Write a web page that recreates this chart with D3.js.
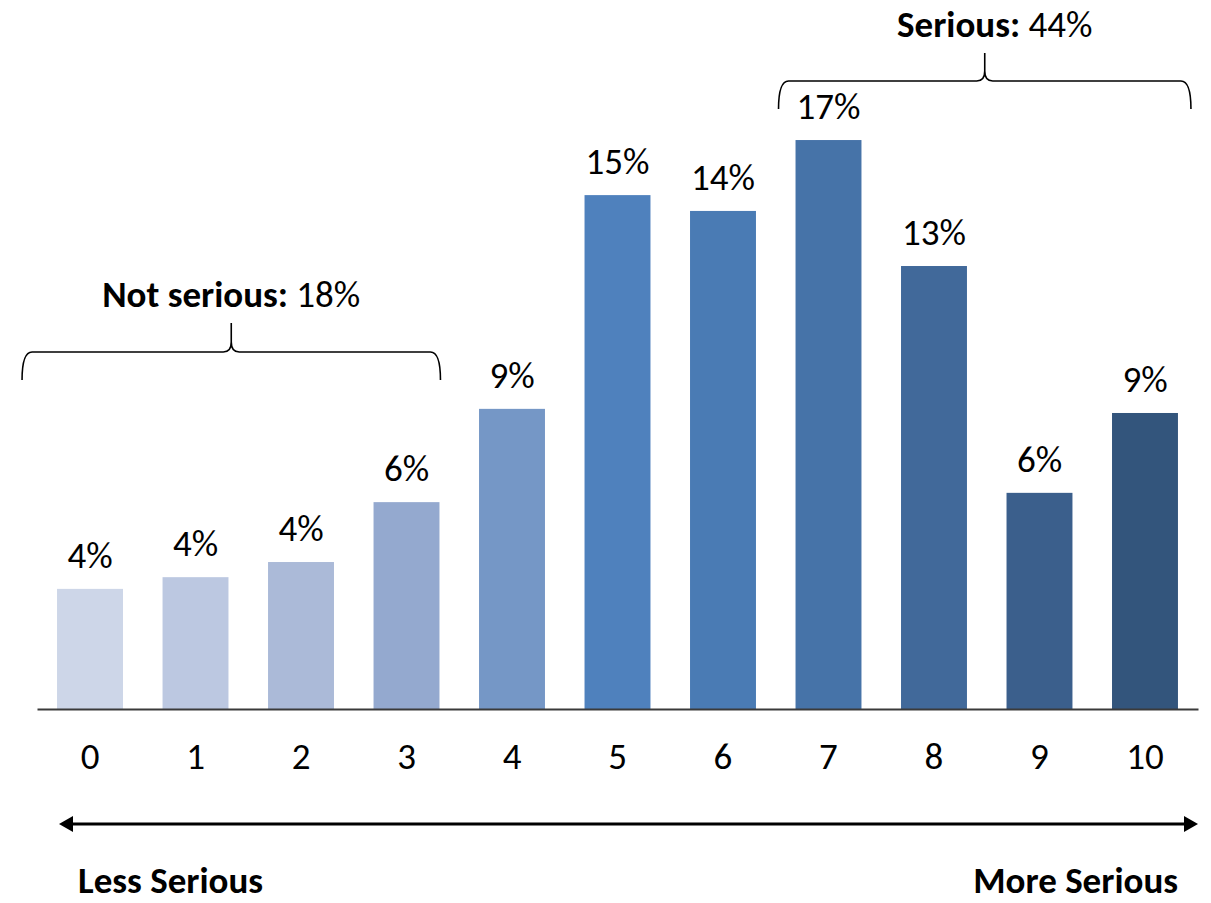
<!DOCTYPE html>
<html>
<head>
<meta charset="utf-8">
<script src="https://cdn.jsdelivr.net/npm/d3@7"></script>
<style>
  html, body { margin: 0; padding: 0; background: #fff; }
  svg { display: block; }
  text { font-family: Carlito, Calibri, "Open Sans", Lato, sans-serif; }
</style>
</head>
<body>
<svg id="chart" width="1211" height="903"></svg>
<script>
// ---- data ----
const categories = ["0", "1", "2", "3", "4", "5", "6", "7", "8", "9", "10"];
const values = [3.49, 3.83, 4.27, 6.01, 8.72, 14.93, 14.47, 16.53, 12.87, 6.28, 8.60];
const valueLabels = ["4%", "4%", "4%", "6%", "9%", "15%", "14%", "17%", "13%", "6%", "9%"];
const barColors = ["#cdd6e8", "#bcc8e1", "#abbad8", "#94a9cf", "#7597c6", "#4f81bd", "#4a7bb4", "#4673a8", "#41699a", "#3b5f8c", "#33557c"];
const groupNames = ["Not serious:", "Serious:"];
const groupValues = ["18%", "44%"];
const groupRanges = [["0", "3"], ["7", "10"]];
const endLabels = ["Less Serious", "More Serious"];

// ---- layout ----
const FONT = "Carlito, Calibri, 'Open Sans', Lato, sans-serif";
const FS = 37;
const svg = d3.select("#chart");
const baseY = 709;
const x = d3.scaleBand().domain(categories).range([37, 1198]).paddingInner(0.375).paddingOuter(0.19);
const y = d3.scaleLinear().domain([0, 20]).range([baseY, baseY - 20 * 34.42]);

// bars
svg.append("g").selectAll("rect").data(values).join("rect")
  .attr("x", (d, i) => x(categories[i]))
  .attr("y", d => y(d))
  .attr("width", x.bandwidth())
  .attr("height", d => y(0) - y(d))
  .attr("fill", (d, i) => barColors[i]);

// value labels
svg.append("g").selectAll("text").data(values).join("text")
  .attr("x", (d, i) => x(categories[i]) + x.bandwidth() / 2)
  .attr("y", d => y(d) - 21)
  .attr("text-anchor", "middle")
  .attr("font-size", FS)
  .attr("fill", "#000")
  .text((d, i) => valueLabels[i]);

// x axis
const axis = svg.append("g").attr("transform", `translate(0,${baseY})`)
  .call(d3.axisBottom(x).tickSize(0).tickPadding(34).tickSizeOuter(0));
axis.select(".domain").attr("stroke", "#3a3a3a").attr("stroke-width", 2);
axis.selectAll(".tick text")
  .attr("font-size", FS)
  .attr("fill", "#000")
  .attr("font-family", FONT);

// braces
function bracePath(x1, x2, xm, yH, yE, yT) {
  const r = 10;
  return `M${x1},${yE} Q${x1},${yH} ${x1 + r},${yH} L${xm - 8},${yH} Q${xm},${yH} ${xm},${yH - 10} L${xm},${yT}` +
         ` M${xm},${yH - 10} Q${xm},${yH} ${xm + 8},${yH} L${x2 - r},${yH} Q${x2},${yH} ${x2},${yE}`;
}
const braceSpecs = [
  { x1: x(groupRanges[0][0]) - 35, x2: x(groupRanges[0][1]) + x.bandwidth() + 1, yH: 352, yE: 380, yT: 323, ty: 307, tdx: 0 },
  { x1: x(groupRanges[1][0]) - 17, x2: x(groupRanges[1][1]) + x.bandwidth() + 13, yH: 81, yE: 109, yT: 53, ty: 37, tdx: 10 }
];
braceSpecs.forEach((b, i) => {
  const xm = (b.x1 + b.x2) / 2;
  svg.append("path")
    .attr("d", bracePath(b.x1, b.x2, xm, b.yH, b.yE, b.yT))
    .attr("fill", "none").attr("stroke", "#000").attr("stroke-width", 1.6);
  const t = svg.append("text")
    .attr("x", xm + b.tdx).attr("y", b.ty)
    .attr("text-anchor", "middle").attr("font-size", FS).attr("fill", "#000");
  t.append("tspan").attr("font-weight", "bold").text(groupNames[i]);
  t.append("tspan").text(" " + groupValues[i]);
});

// double-headed arrow
const ay = 824, ax1 = 59, ax2 = 1198;
svg.append("line").attr("x1", ax1 + 10).attr("x2", ax2 - 10).attr("y1", ay).attr("y2", ay)
  .attr("stroke", "#000").attr("stroke-width", 3);
svg.append("path").attr("d", `M${ax1},${ay} L${ax1 + 14},${ay - 8} L${ax1 + 14},${ay + 8} Z`).attr("fill", "#000");
svg.append("path").attr("d", `M${ax2},${ay} L${ax2 - 14},${ay - 8} L${ax2 - 14},${ay + 8} Z`).attr("fill", "#000");

// end labels
svg.append("text").attr("x", 78).attr("y", 893).attr("font-size", FS).attr("font-weight", "bold")
  .attr("fill", "#000").text(endLabels[0]);
svg.append("text").attr("x", 1178).attr("y", 893).attr("font-size", FS).attr("font-weight", "bold")
  .attr("text-anchor", "end").attr("fill", "#000").text(endLabels[1]);
</script>
</body>
</html>
